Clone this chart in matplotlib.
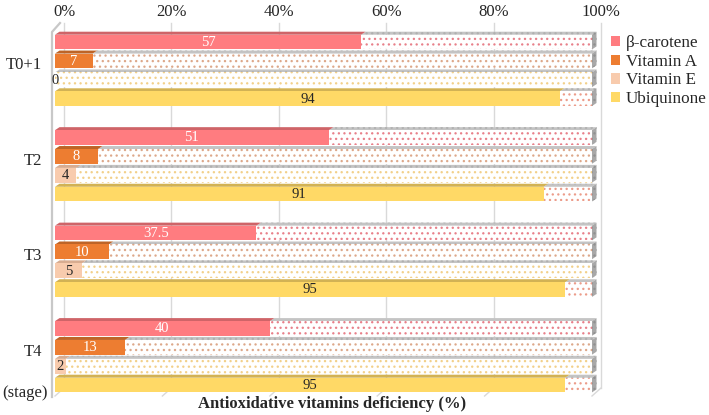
import matplotlib
matplotlib.use('Agg')
import matplotlib.pyplot as plt
from matplotlib.patches import Polygon, Patch
from matplotlib.lines import Line2D
from matplotlib.transforms import IdentityTransform, offset_copy

# ---------------- data ----------------
stages = ['T0+1', 'T2', 'T3', 'T4']
series = ['β-carotene', 'Vitamin A', 'Vitamin E', 'Ubiquinone']
beta_carotene = [57, 51, 37.5, 40]
vitamin_a = [7, 8, 10, 13]
vitamin_e = [0, 4, 5, 2]
ubiquinone = [94, 91, 95, 95]
xticks = [0, 20, 40, 60, 80, 100]
xtick_labels = ['0%', '20%', '40%', '60%', '80%', '100%']
axis_title = 'Antioxidative vitamins deficiency (%)'
stage_axis_label = '(stage)'

values = [beta_carotene, vitamin_a, vitamin_e, ubiquinone]

# ---------------- style ----------------
face = ['#FF7C80', '#ED7D31', '#F8CBAD', '#FFD966']
topc = ['#CF6468', '#BE6427', '#D8AC90', '#D2B254']
dotc = ['#E8808A', '#DDA88A', '#F2D08A', '#EC9C8A']
txtc = ['white', 'white', '#262626', '#262626']

plt.rcParams['font.family'] = ['Liberation Serif', 'DejaVu Serif']
plt.rcParams['hatch.linewidth'] = 0.9

fig = plt.figure(figsize=(7.09, 4.15), dpi=100)
FH = 415.0
ax = fig.add_axes([55 / 709, (FH - 396) / FH, 537 / 709, 363 / FH])
ax.set_axis_off()

GP = 5.06      # group pitch in bar units
BH = 0.78      # bar height
n_ser = len(series)
last = (len(stages) - 1) * GP + (n_ser - 1)
ax.set_xlim(0, 100)
ax.set_ylim(last + 0.58, -0.48)

# depth offsets in pixels
BDX, BDY = 4.5, 3.0     # bar depth
PDX, PDY = 9.0, 8.0     # back plane offset

fig.canvas.draw()
T = ax.transData
ident = IdentityTransform()

# ---- back plane gridlines and floor ----
yb_front = T.transform((0, ax.get_ylim()[0]))[1]
yt_front = T.transform((0, ax.get_ylim()[1]))[1]
for xt in xticks:
    xf = T.transform((xt, 0))[0]
    ax.add_line(Line2D([xf + PDX, xf + PDX], [yb_front + PDY, yt_front + PDY + 2],
                       color='#D9D9D9', lw=1.0, transform=ident, clip_on=False, zorder=0.5))
    ax.add_line(Line2D([xf, xf + PDX], [yb_front, yb_front + PDY],
                       color='#D9D9D9', lw=1.0, transform=ident, clip_on=False, zorder=0.5))
# left wall
x0p = T.transform((0, 0))[0]
ax.add_line(Line2D([x0p - 3, x0p - 3, x0p + 5], [yb_front - 1, yt_front + 1, yt_front + PDY + 2],
                   color='#C8C8C8', lw=1.6, transform=ident, clip_on=False, zorder=0.6))

# ---- bars ----
for j in range(n_ser):
    pos = [g * GP + j for g in range(len(stages))]
    vals = values[j]
    rem = [100 - v for v in vals]
    ax.barh(pos, vals, height=BH, color=face[j], linewidth=0, zorder=3)
    ax.barh(pos, rem, left=vals, height=BH, facecolor='white', edgecolor=dotc[j],
            hatch='...', linewidth=0, zorder=3)
    for p, v in zip(pos, vals):
        (xa, yb), = T.transform([(0, p + BH / 2)])
        (xv, yt), = T.transform([(v, p - BH / 2)])
        xe = T.transform((100, 0))[0]
        # top face of value part
        if v > 0:
            ax.add_patch(Polygon([(xa, yt), (xv, yt), (xv + BDX, yt + BDY), (xa + BDX, yt + BDY)],
                                 closed=True, facecolor=topc[j], linewidth=0,
                                 transform=ident, clip_on=False, zorder=2.5))
        # top face of remainder
        ax.add_patch(Polygon([(xv, yt), (xe, yt), (xe + BDX, yt + BDY), (xv + BDX, yt + BDY)],
                             closed=True, facecolor='#C4C4C4', edgecolor='#B0B0B0', hatch='...',
                             linewidth=0, transform=ident, clip_on=False, zorder=2.4))
        # side face
        ax.add_patch(Polygon([(xe, yb), (xe, yt), (xe + BDX, yt + BDY), (xe + BDX, yb + BDY)],
                             closed=True, facecolor='#A8A8A8', edgecolor='#909090', hatch='...',
                             linewidth=0, transform=ident, clip_on=False, zorder=2.6))
        ax.text(v / 2, p + 0.02, f'{v:g}', ha='center', va='center', fontsize=10.5,
                color=txtc[j], zorder=5)

# ---- top tick labels (back plane) ----
tick_tr = offset_copy(ax.get_xaxis_transform(), fig=fig, x=PDX, y=0, units='dots')
for xt, lab in zip(xticks, xtick_labels):
    ax.text(xt, 1 + 21 / 363, lab, transform=tick_tr, ha='center', va='center',
            fontsize=12, color='#262626', clip_on=False)

# ---- stage labels ----
stage_tr = offset_copy(ax.get_yaxis_transform(), fig=fig, x=0, y=5, units='dots')
for g, s in enumerate(stages):
    ax.text(-13 / 537, g * GP + (n_ser - 1) / 2, s, transform=stage_tr, ha='right', va='center',
            fontsize=12, color='#262626', clip_on=False)
fig.text(48 / 709, 1 - 393 / FH, stage_axis_label, ha='right', va='center', fontsize=12,
         color='#262626')

# ---- axis title ----
fig.text(332 / 709, 1 - 404 / FH, axis_title, ha='center', va='center', fontsize=12,
         fontweight='bold', color='#262626')

# ---- legend ----
handles = [Patch(facecolor=face[j], edgecolor='none', label=series[j]) for j in range(n_ser)]
fig.legend(handles=handles, loc='upper left', bbox_to_anchor=(611 / 709, 1 - 35 / FH),
           frameon=False, fontsize=12.3, handlelength=0.55, handleheight=0.55,
           handletextpad=0.3, labelspacing=0.16, borderpad=0, borderaxespad=0,
           labelcolor='#262626')

fig.savefig('out.png', dpi=100)
